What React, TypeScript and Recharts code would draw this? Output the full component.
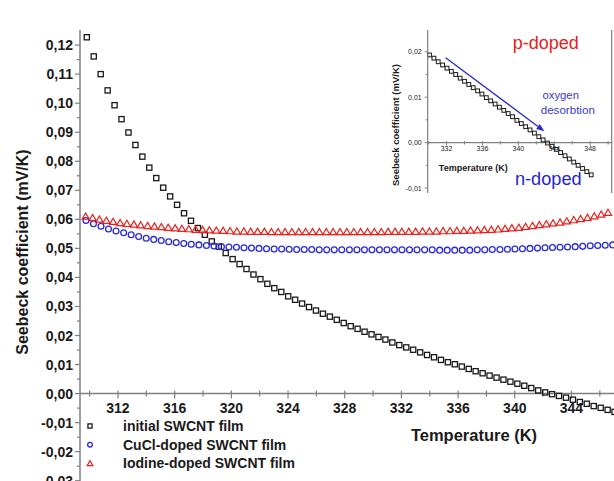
import { ReferenceDot, ReferenceLine, Scatter, ScatterChart, XAxis, YAxis } from "recharts";

const FONT = '"Liberation Sans", Arial, Helvetica, sans-serif';
const AXIS = "#7f7f7f";
const INK = "#1a1a1a";
const BLACK = "#1a1a1a";
const BLUE = "#2a2ad6";
const RED = "#e8201c";

// main chart: initial SWCNT film
const initialTemp = [
  309.8, 310.29, 310.78, 311.27, 311.76, 312.25, 312.74, 313.23, 313.72, 314.21,
  314.7, 315.19, 315.68, 316.17, 316.66, 317.15, 317.64, 318.13, 318.62, 319.11,
  319.6, 320.09, 320.58, 321.07, 321.56, 322.05, 322.54, 323.03, 323.52, 324.01,
  324.5, 324.99, 325.48, 325.97, 326.46, 326.95, 327.44, 327.93, 328.42, 328.91,
  329.4, 329.89, 330.38, 330.87, 331.36, 331.85, 332.34, 332.83, 333.32, 333.81,
  334.3, 334.79, 335.28, 335.77, 336.26, 336.75, 337.24, 337.73, 338.22, 338.71,
  339.2, 339.69, 340.18, 340.67, 341.16, 341.65, 342.14, 342.63, 343.12, 343.61,
  344.1, 344.59, 345.08, 345.57, 346.06, 346.55, 347.04,
];
const initialSeebeck = [
  0.1227, 0.1161, 0.11, 0.1044, 0.0993, 0.0945, 0.0899, 0.0856, 0.0816, 0.0778,
  0.0742, 0.0709, 0.0679, 0.065, 0.0621, 0.0595, 0.057, 0.0547, 0.0524, 0.0506,
  0.0484, 0.0463, 0.0446, 0.0429, 0.041, 0.0394, 0.0378, 0.0363, 0.035, 0.0335,
  0.0323, 0.031, 0.0298, 0.0286, 0.0275, 0.0265, 0.0254, 0.0243, 0.0232, 0.0223,
  0.0213, 0.0204, 0.0195, 0.0186, 0.0176, 0.0167, 0.0159, 0.0151, 0.0142, 0.0133,
  0.0125, 0.0116, 0.0108, 0.0101, 0.0093, 0.0085, 0.0077, 0.007, 0.0062, 0.0055,
  0.0048, 0.0041, 0.0034, 0.0027, 0.0019, 0.0011, 0.0004, -0.0002, -0.0008, -0.0014,
  -0.0021, -0.0029, -0.0035, -0.0043, -0.0049, -0.0056, -0.0063,
];

// CuCl-doped SWCNT film
const cuclTemp = [
  309.74, 310.27, 310.8, 311.33, 311.86, 312.4, 312.93, 313.46, 313.99, 314.52,
  315.05, 315.58, 316.11, 316.64, 317.17, 317.71, 318.24, 318.77, 319.3, 319.83,
  320.36, 320.89, 321.42, 321.95, 322.48, 323.02, 323.55, 324.08, 324.61, 325.14,
  325.67, 326.2, 326.73, 327.26, 327.79, 328.33, 328.86, 329.39, 329.92, 330.45,
  330.98, 331.51, 332.04, 332.57, 333.1, 333.64, 334.17, 334.7, 335.23, 335.76,
  336.29, 336.82, 337.35, 337.88, 338.41, 338.95, 339.48, 340.01, 340.54, 341.07,
  341.6, 342.13, 342.66, 343.19, 343.72, 344.26, 344.79, 345.32, 345.85, 346.38,
  346.91,
];
const cuclSeebeck = [
  0.0596, 0.0585, 0.0576, 0.0567, 0.056, 0.0554, 0.0547, 0.0541, 0.0535, 0.0531,
  0.0527, 0.0523, 0.052, 0.0517, 0.0514, 0.0512, 0.051, 0.0508, 0.0506, 0.0505,
  0.0504, 0.0502, 0.0501, 0.05, 0.0499, 0.0498, 0.0498, 0.0497, 0.0496, 0.0496,
  0.0496, 0.0495, 0.0495, 0.0495, 0.0495, 0.0495, 0.0495, 0.0495, 0.0495, 0.0495,
  0.0495, 0.0495, 0.0495, 0.0495, 0.0495, 0.0495, 0.0495, 0.0494, 0.0494, 0.0494,
  0.0494, 0.0494, 0.0495, 0.0495, 0.0496, 0.0496, 0.0497, 0.0498, 0.0499, 0.05,
  0.0501, 0.0502, 0.0503, 0.0504, 0.0505, 0.0506, 0.0507, 0.0509, 0.051, 0.0511,
  0.0512,
];

// Iodine-doped SWCNT film
const iodineTemp = [
  309.72, 310.21, 310.69, 311.18, 311.66, 312.15, 312.63, 313.12, 313.6, 314.09,
  314.57, 315.06, 315.54, 316.03, 316.51, 317.0, 317.48, 317.97, 318.45, 318.94,
  319.42, 319.91, 320.39, 320.88, 321.36, 321.85, 322.33, 322.82, 323.3, 323.79,
  324.27, 324.76, 325.24, 325.73, 326.21, 326.7, 327.18, 327.67, 328.15, 328.64,
  329.12, 329.61, 330.09, 330.58, 331.06, 331.55, 332.03, 332.52, 333.0, 333.49,
  333.97, 334.46, 334.94, 335.43, 335.91, 336.4, 336.88, 337.37, 337.85, 338.34,
  338.82, 339.31, 339.79, 340.28, 340.76, 341.25, 341.73, 342.22, 342.7, 343.19,
  343.67, 344.16, 344.64, 345.13, 345.61, 346.1, 346.58,
];
const iodineSeebeck = [
  0.061, 0.0605, 0.06, 0.0596, 0.0592, 0.0588, 0.0585, 0.0583, 0.058, 0.0578,
  0.0576, 0.0574, 0.0572, 0.057, 0.0568, 0.0567, 0.0565, 0.0564, 0.0563, 0.0562,
  0.0561, 0.056, 0.0559, 0.0559, 0.0558, 0.0558, 0.0558, 0.0557, 0.0557, 0.0557,
  0.0557, 0.0557, 0.0557, 0.0557, 0.0557, 0.0557, 0.0557, 0.0557, 0.0557, 0.0557,
  0.0557, 0.0557, 0.0557, 0.0557, 0.0558, 0.0558, 0.0558, 0.0558, 0.0558, 0.0559,
  0.0559, 0.0559, 0.056, 0.056, 0.0561, 0.0561, 0.0562, 0.0563, 0.0564, 0.0565,
  0.0566, 0.0568, 0.057, 0.0572, 0.0575, 0.0578, 0.0581, 0.0584, 0.0587, 0.059,
  0.0594, 0.0598, 0.0602, 0.0606, 0.0611, 0.0617, 0.0623,
];

// inset: initial film around the sign change
const insetTemp = [
  330.1, 330.59, 331.07, 331.56, 332.05, 332.54, 333.02, 333.51, 334.0, 334.48,
  334.97, 335.46, 335.94, 336.43, 336.92, 337.41, 337.89, 338.38, 338.87, 339.35,
  339.84, 340.33, 340.81, 341.3, 341.79, 342.28, 342.76, 343.25, 343.74, 344.22,
  344.71, 345.2, 345.68, 346.17, 346.66, 347.15, 347.63, 348.12,
];
const insetSeebeck = [
  0.0193, 0.0186, 0.0178, 0.0171, 0.0164, 0.0157, 0.015, 0.0142, 0.0135, 0.0128,
  0.0121, 0.0114, 0.0107, 0.0099, 0.0092, 0.0085, 0.0078, 0.0071, 0.0064, 0.0057,
  0.0049, 0.0042, 0.0035, 0.0028, 0.0021, 0.0013, 0.0006, -0.0001, -0.0008, -0.0015,
  -0.0022, -0.0029, -0.0036, -0.0043, -0.005, -0.0057, -0.0064, -0.0071,
];

const mainXTicks = [310, 312, 314, 316, 318, 320, 322, 324, 326, 328, 330, 332, 334, 336, 338, 340, 342, 344, 346];
const mainYTicks = [
  -0.03, -0.025, -0.02, -0.015, -0.01, -0.005, 0, 0.005, 0.01, 0.015, 0.02, 0.025, 0.03,
  0.035, 0.04, 0.045, 0.05, 0.055, 0.06, 0.065, 0.07, 0.075, 0.08, 0.085, 0.09, 0.095,
  0.1, 0.105, 0.11, 0.115, 0.12,
];
const insetXTicks = [330, 332, 334, 336, 338, 340, 342, 344, 346, 348, 350];
const insetYTicks = [-0.01, -0.005, 0, 0.005, 0.01, 0.015, 0.02];

const arrowFrom = { t: 331.9, s: 0.0187 };
const arrowTo = { t: 342.9, s: 0.0025 };

const zip = (ts: number[], ss: number[]) => ts.map((t, i) => ({ t, s: ss[i] }));

const fmt = (v: number) => v.toFixed(2).replace(".", ",");
const isMajorY = (v: number) => Math.abs(Math.round(v * 1000)) % 10 === 0;

function Marker({ kind, color, cx, cy, size = 1 }: any) {
  if (kind === "square") {
    const h = 2.6 * size;
    return <rect x={cx - h} y={cy - h} width={2 * h} height={2 * h} fill="none" stroke={color} strokeWidth={1.3} />;
  }
  if (kind === "circle") {
    return <circle cx={cx} cy={cy} r={2.9 * size} fill="none" stroke={color} strokeWidth={1.3} />;
  }
  const w = 3.6 * size;
  const top = 3.4 * size;
  const bot = 2.8 * size;
  return (
    <polygon
      points={`${cx},${cy - top} ${cx + w},${cy + bot} ${cx - w},${cy + bot}`}
      fill="none"
      stroke={color}
      strokeWidth={1.2}
    />
  );
}

const series = [
  { name: "initial SWCNT film", kind: "square", color: BLACK, data: zip(initialTemp, initialSeebeck) },
  { name: "CuCl-doped SWCNT film", kind: "circle", color: BLUE, data: zip(cuclTemp, cuclSeebeck) },
  { name: "Iodine-doped SWCNT film", kind: "triangle", color: RED, data: zip(iodineTemp, iodineSeebeck) },
];

function MainYTick(props: any) {
  const { x, y, payload } = props;
  const v: number = payload.value;
  const major = isMajorY(v);
  return (
    <g>
      <line x1={x - (major ? 5 : 3)} x2={x} y1={y} y2={y} stroke={AXIS} strokeWidth={1.2} />
      {major && (
        <text x={x - 7} y={y + 5} textAnchor="end" fontSize={14} fontWeight="bold" fill={INK} fontFamily={FONT}>
          {fmt(v)}
        </text>
      )}
    </g>
  );
}

function InsetYTick(props: any) {
  const { x, y, payload } = props;
  const v: number = payload.value;
  const major = isMajorY(v);
  return (
    <g>
      <line x1={x - (major ? 3 : 2)} x2={x} y1={y} y2={y} stroke={AXIS} strokeWidth={1} />
      {major && (
        <text x={x - 6} y={y + 2.5} textAnchor="end" fontSize={7} fill={INK} fontFamily={FONT}>
          {fmt(v)}
        </text>
      )}
    </g>
  );
}

function XTick({ cx, cy, value, small }: any) {
  const major = value % 4 === 0;
  const up = small ? 1.5 : 3;
  const down = small ? (major ? 3 : 2) : major ? 5 : 3;
  return (
    <g>
      <line x1={cx} x2={cx} y1={cy - up} y2={cy + down} stroke={AXIS} strokeWidth={small ? 1 : 1.2} />
      {major && (
        <text
          x={cx}
          y={cy + (small ? 8 : 19)}
          textAnchor="middle"
          fontSize={small ? 7 : 14}
          fontWeight={small ? "normal" : "bold"}
          fill={INK}
          fontFamily={FONT}
        >
          {value}
        </text>
      )}
    </g>
  );
}

function Arrow(props: any) {
  const { x1, y1, x2, y2 } = props;
  const a = Math.atan2(y2 - y1, x2 - x1);
  const len = 8;
  const w = 3;
  const bx = x2 - len * Math.cos(a);
  const by = y2 - len * Math.sin(a);
  const px = -Math.sin(a) * w;
  const py = Math.cos(a) * w;
  return (
    <g>
      <line x1={x1} y1={y1} x2={bx} y2={by} stroke="#2b2bd0" strokeWidth={1.3} />
      <polygon points={`${x2},${y2} ${bx + px},${by + py} ${bx - px},${by - py}`} fill="#2b2bd0" />
    </g>
  );
}

function MainChart() {
  return (
    <ScatterChart width={614} height={481} margin={{ top: 30, right: 0, bottom: 0, left: 0 }}>
      <XAxis
        type="number"
        dataKey="t"
        orientation="top"
        domain={[309.32, 347]}
        allowDataOverflow
        height={0}
        tick={false}
        tickLine={false}
        axisLine={{ stroke: AXIS, strokeWidth: 1.5 }}
      />
      <YAxis
        type="number"
        dataKey="s"
        domain={[-0.0301, 0.1252]}
        allowDataOverflow
        width={80}
        ticks={mainYTicks}
        interval={0}
        tick={MainYTick}
        tickSize={0}
        tickMargin={0}
        tickLine={false}
        axisLine={{ stroke: AXIS, strokeWidth: 1.5 }}
      />
      <ReferenceLine y={0} stroke={AXIS} strokeWidth={1.5} />
      {mainXTicks.map((t) => (
        <ReferenceDot
          key={t}
          x={t}
          y={0}
          r={0}
          ifOverflow="visible"
          shape={(p: any) => <XTick cx={p.cx} cy={p.cy} value={t} />}
        />
      ))}
      {series.map((s) => (
        <Scatter
          key={s.name}
          name={s.name}
          data={s.data}
          isAnimationActive={false}
          shape={(p: any) => <Marker kind={s.kind} color={s.color} cx={p.cx} cy={p.cy} />}
        />
      ))}
      <text
        transform="rotate(-90, 22, 252)"
        x={22}
        y={252}
        dy="0.35em"
        textAnchor="middle"
        fontSize={16}
        fontWeight="bold"
        fill={INK}
        fontFamily={FONT}
      >
        Seebeck coefficient (mV/K)
      </text>
      <text x={474} y={441} textAnchor="middle" fontSize={16.5} fontWeight="bold" fill={INK} fontFamily={FONT}>
        Temperature (K)
      </text>
      <g>
        {series.map((s, i) => (
          <g key={s.name}>
            <Marker kind={s.kind} color={s.color} cx={90} cy={426 + i * 18.7} size={0.8} />
            <text x={123} y={431 + i * 18.7} fontSize={14} fontWeight="bold" fill={INK} fontFamily={FONT}>
              {s.name}
            </text>
          </g>
        ))}
      </g>
    </ScatterChart>
  );
}

function InsetChart() {
  return (
    <ScatterChart width={234} height={200} margin={{ top: 30, right: 2.3, bottom: 7, left: 0 }}>
      <XAxis
        type="number"
        dataKey="t"
        orientation="top"
        domain={[329.9, 350.4]}
        allowDataOverflow
        height={0}
        tick={false}
        tickLine={false}
        axisLine={{ stroke: AXIS, strokeWidth: 1.2 }}
      />
      <YAxis
        type="number"
        dataKey="s"
        domain={[-0.0111, 0.0248]}
        allowDataOverflow
        width={47.7}
        ticks={insetYTicks}
        interval={0}
        tick={InsetYTick}
        tickSize={0}
        tickMargin={0}
        tickLine={false}
        axisLine={{ stroke: AXIS, strokeWidth: 1.2 }}
      />
      <ReferenceLine x={350.4} stroke={AXIS} strokeWidth={1.2} />
      <ReferenceLine y={0} stroke={AXIS} strokeWidth={1.2} />
      {insetXTicks.map((t) => (
        <ReferenceDot
          key={t}
          x={t}
          y={0}
          r={0}
          ifOverflow="visible"
          shape={(p: any) => <XTick cx={p.cx} cy={p.cy} value={t} small />}
        />
      ))}
      <ReferenceLine
        segment={[
          { x: arrowFrom.t, y: arrowFrom.s },
          { x: arrowTo.t, y: arrowTo.s },
        ]}
        ifOverflow="visible"
        shape={Arrow}
      />
      <Scatter
        name="initial SWCNT film"
        data={zip(insetTemp, insetSeebeck)}
        isAnimationActive={false}
        shape={(p: any) => (
          <rect x={p.cx - 1.9} y={p.cy - 1.9} width={3.8} height={3.8} fill="none" stroke={BLACK} strokeWidth={1} />
        )}
      />
      <text
        transform="rotate(-90, 15.3, 125)"
        x={15.3}
        y={125}
        dy="0.35em"
        textAnchor="middle"
        fontSize={9.5}
        fontWeight="bold"
        fill={INK}
        fontFamily={FONT}
      >
        Seebeck coefficient (mV/K)
      </text>
      <text x={93.3} y={170.6} textAnchor="middle" fontSize={9} fontWeight="bold" fill={INK} fontFamily={FONT}>
        Temperature (K)
      </text>
      <text x={165.8} y={48.5} textAnchor="middle" fontSize={18} fill={RED} fontFamily={FONT}>
        p-doped
      </text>
      <text x={168.3} y={184.5} textAnchor="middle" fontSize={18.2} fill="#2424d4" fontFamily={FONT}>
        n-doped
      </text>
      <text x={162.5} y={99} fontSize={11.3} fill="#3a3ad0" fontFamily={FONT}>
        oxygen
      </text>
      <text x={160.7} y={113.5} fontSize={11.6} fill="#3a3ad0" fontFamily={FONT}>
        desorbtion
      </text>
    </ScatterChart>
  );
}

export default function App() {
  return (
    <div style={{ position: "absolute", left: 0, top: 0, width: 614, height: 481, background: "#fff", overflow: "hidden" }}>
      <MainChart />
      <div style={{ position: "absolute", left: 380, top: 0 }}>
        <InsetChart />
      </div>
    </div>
  );
}
